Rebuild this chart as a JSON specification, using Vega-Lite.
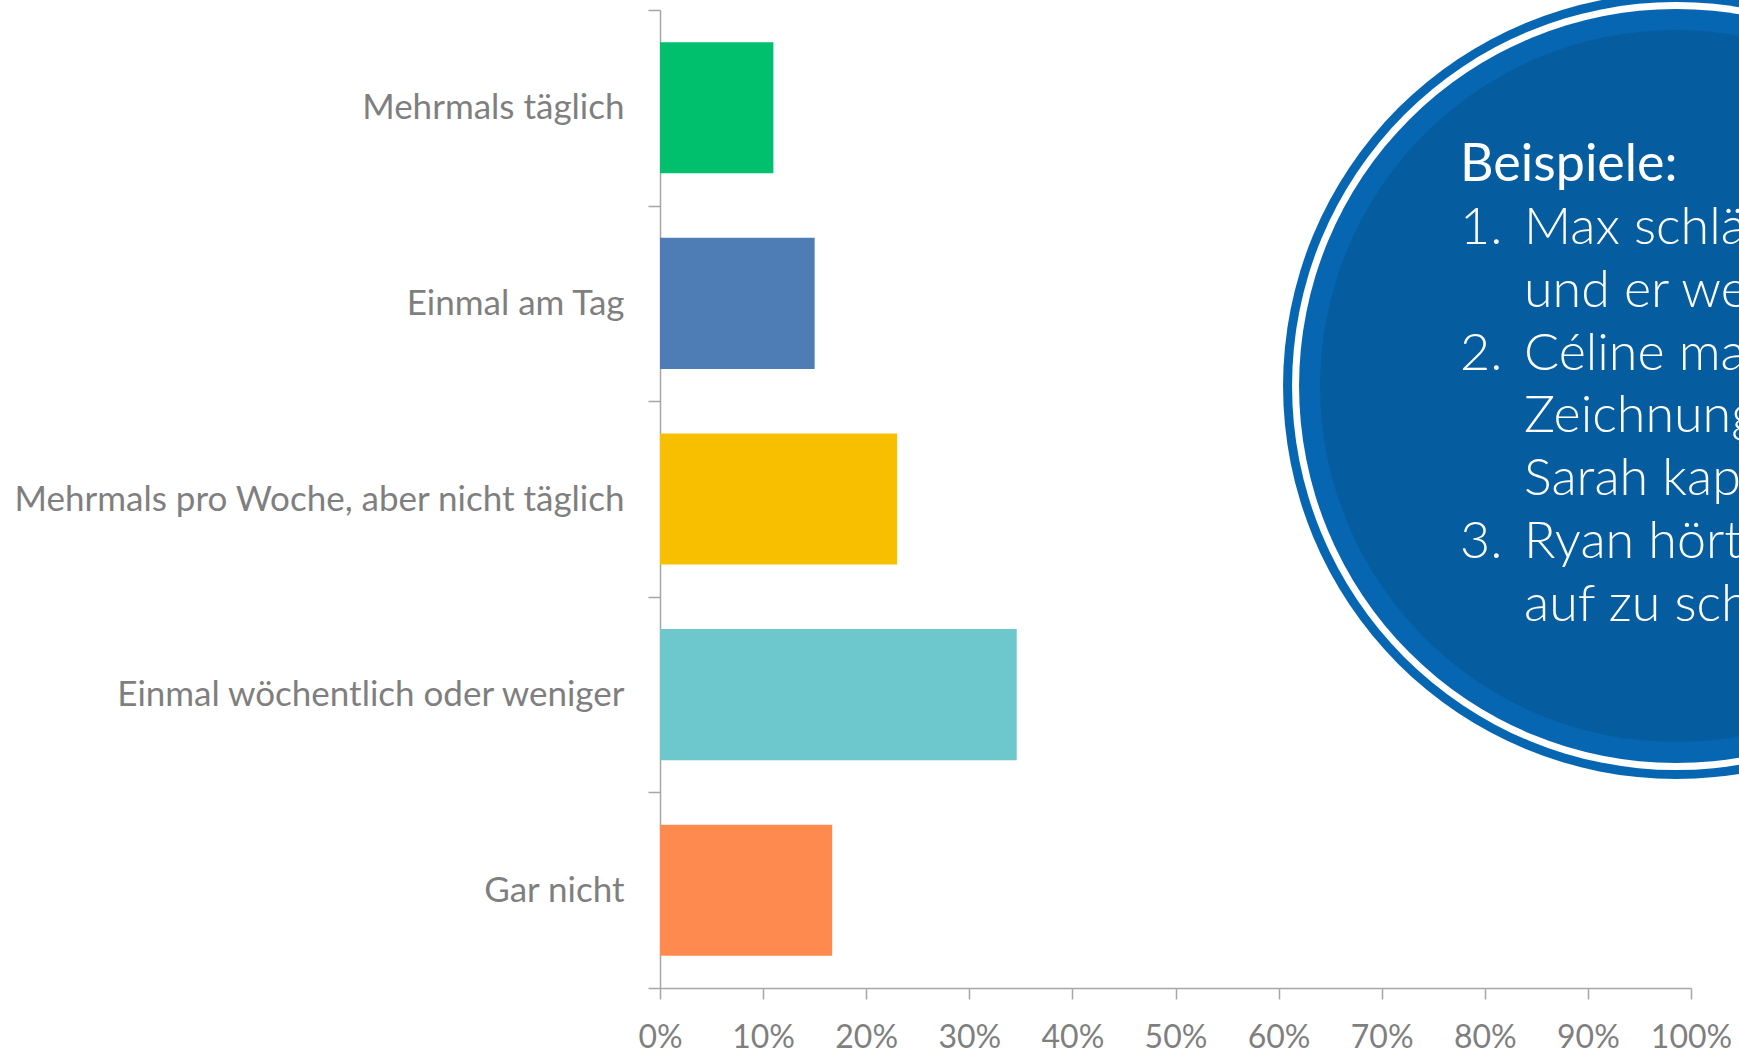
{
  "$schema": "https://vega.github.io/schema/vega-lite/v6.json",
  "autosize": {"type": "none"},
  "padding": {"left": 660, "top": 10, "right": 48, "bottom": 66},
  "width": 1031,
  "height": 978,
  "background": "white",
  "config": {
    "view": {"stroke": null},
    "font": "Lato",
    "axis": {
      "domainColor": "#a6a6a6",
      "domainWidth": 1.5,
      "tickColor": "#a6a6a6",
      "tickWidth": 1.5,
      "labelFont": "Lato",
      "labelColor": "#7f7f7f",
      "grid": false,
      "title": null
    }
  },
  "datasets": {
    "bars": [
      {"kategorie": "Mehrmals täglich", "anteil": 0.11},
      {"kategorie": "Einmal am Tag", "anteil": 0.15},
      {"kategorie": "Mehrmals pro Woche, aber nicht täglich", "anteil": 0.23},
      {"kategorie": "Einmal wöchentlich oder weniger", "anteil": 0.346},
      {"kategorie": "Gar nicht", "anteil": 0.167}
    ],
    "box": [
      {"ring": "center"}
    ],
    "lines": [
      {"zeile": 1, "spalte": "a", "art": "kopf", "text": "Beispiele:"},
      {"zeile": 2, "spalte": "a", "art": "punkt", "text": "1."},
      {"zeile": 2, "spalte": "b", "art": "punkt", "text": "Max schlägt"},
      {"zeile": 3, "spalte": "b", "art": "punkt", "text": "und er weint"},
      {"zeile": 4, "spalte": "a", "art": "punkt", "text": "2."},
      {"zeile": 4, "spalte": "b", "art": "punkt", "text": "Céline macht"},
      {"zeile": 5, "spalte": "b", "art": "punkt", "text": "Zeichnung"},
      {"zeile": 6, "spalte": "b", "art": "punkt", "text": "Sarah kaputt"},
      {"zeile": 7, "spalte": "a", "art": "punkt", "text": "3."},
      {"zeile": 7, "spalte": "b", "art": "punkt", "text": "Ryan hört"},
      {"zeile": 8, "spalte": "b", "art": "punkt", "text": "auf zu schreien"}
    ]
  },
  "layer": [
    {
      "data": {"name": "bars"},
      "mark": {"type": "bar", "height": {"band": 0.67}},
      "encoding": {
        "y": {
          "field": "kategorie",
          "type": "nominal",
          "sort": null,
          "scale": {"paddingInner": 0, "paddingOuter": 0},
          "axis": {"tickBand": "extent", "tickSize": 12, "labelPadding": 24, "labelLimit": 800, "labelFontSize": 35}
        },
        "x": {
          "field": "anteil",
          "type": "quantitative",
          "scale": {"domain": [0, 1], "nice": false},
          "axis": {"values": [0, 0.1, 0.2, 0.3, 0.4, 0.5, 0.6, 0.7, 0.8, 0.9, 1], "format": ".0%", "tickSize": 11, "labelPadding": 23, "labelOverlap": false, "labelFlush": false, "labelFontSize": 32}
        },
        "color": {
          "field": "kategorie",
          "type": "nominal",
          "scale": {
            "domain": ["Mehrmals täglich", "Einmal am Tag", "Mehrmals pro Woche, aber nicht täglich", "Einmal wöchentlich oder weniger", "Gar nicht"],
            "range": ["#00c06e", "#4e7cb4", "#f8be00", "#6cc8cc", "#ff8a50"]
          },
          "legend": null
        }
      }
    },
    {
      "data": {"name": "box"},
      "mark": {"type": "point", "shape": "circle", "filled": true, "opacity": 1, "size": 617796, "color": "#0766b1", "strokeWidth": 0},
      "encoding": {
        "x": {"datum": 0.9855},
        "y": {"datum": 376, "type": "quantitative", "scale": {"domain": [0, 978], "reverse": true}, "axis": null}
      }
    },
    {
      "data": {"name": "box"},
      "mark": {"type": "point", "shape": "circle", "filled": true, "opacity": 1, "size": 589824, "color": "#ffffff", "strokeWidth": 0},
      "encoding": {
        "x": {"datum": 0.9855},
        "y": {"datum": 376, "type": "quantitative", "scale": {"domain": [0, 978], "reverse": true}, "axis": null}
      }
    },
    {
      "data": {"name": "box"},
      "mark": {"type": "point", "shape": "circle", "filled": true, "opacity": 1, "size": 568516, "color": "#0766b1", "strokeWidth": 0},
      "encoding": {
        "x": {"datum": 0.9855},
        "y": {"datum": 376, "type": "quantitative", "scale": {"domain": [0, 978], "reverse": true}, "axis": null}
      }
    },
    {
      "data": {"name": "box"},
      "mark": {"type": "point", "shape": "circle", "filled": true, "opacity": 1, "size": 506944, "color": "#055da0", "strokeWidth": 0},
      "encoding": {
        "x": {"datum": 0.9855},
        "y": {"datum": 376, "type": "quantitative", "scale": {"domain": [0, 978], "reverse": true}, "axis": null}
      }
    },
    {
      "data": {"name": "lines"},
      "transform": [{"filter": "datum.art === 'kopf'"}],
      "mark": {"type": "text", "align": "left", "baseline": "middle", "font": "Lato", "fontSize": 52, "fontWeight": 400, "color": "#ffffff"},
      "encoding": {
        "x": {"datum": 0.776},
        "y": {"field": "zeile", "type": "quantitative", "scale": {"domain": [1, 8], "range": [155, 595]}, "axis": null},
        "text": {"field": "text"}
      }
    },
    {
      "data": {"name": "lines"},
      "transform": [{"filter": "datum.art === 'punkt' && datum.spalte === 'a'"}],
      "mark": {"type": "text", "align": "left", "baseline": "middle", "font": "Lato", "fontSize": 52, "fontWeight": 300, "color": "#ffffff"},
      "encoding": {
        "x": {"datum": 0.776},
        "y": {"field": "zeile", "type": "quantitative", "scale": {"domain": [1, 8], "range": [155, 595]}, "axis": null},
        "text": {"field": "text"}
      }
    },
    {
      "data": {"name": "lines"},
      "transform": [{"filter": "datum.art === 'punkt' && datum.spalte === 'b'"}],
      "mark": {"type": "text", "align": "left", "baseline": "middle", "font": "Lato", "fontSize": 52, "fontWeight": 300, "color": "#ffffff"},
      "encoding": {
        "x": {"datum": 0.838},
        "y": {"field": "zeile", "type": "quantitative", "scale": {"domain": [1, 8], "range": [155, 595]}, "axis": null},
        "text": {"field": "text"}
      }
    }
  ],
  "resolve": {"scale": {"y": "independent"}, "axis": {"y": "independent"}}
}
